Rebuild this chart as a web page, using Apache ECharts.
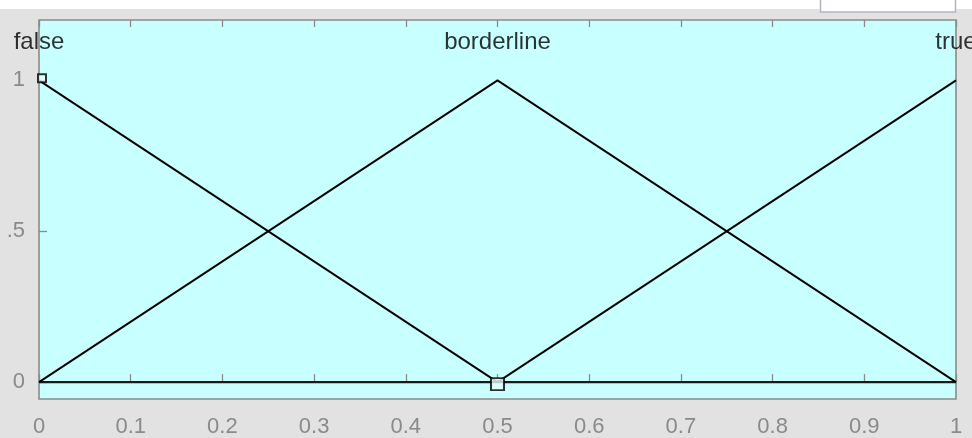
<!DOCTYPE html>
<html><head><meta charset="utf-8">
<script src="https://cdn.jsdelivr.net/npm/echarts@6/dist/echarts.min.js"></script>
<style>html,body{margin:0;padding:0;background:#fff}#c{width:972px;height:438px}</style>
</head><body><div id="c"></div>
<script>
// Membership functions
const xTicks = [0,0.1,0.2,0.3,0.4,0.5,0.6,0.7,0.8,0.9,1];
const yTicks = [0,0.5,1];
const falseMF = [[0,1],[0.5,0]];
const borderlineMF = [[0,0],[0.5,1],[1,0]];
const trueMF = [[0.5,0],[1,1]];
const zeroLine = [[0,0],[1,0]];
const termNames = ['false','borderline','true'];
const termCenters = [0,0.5,1];
const termLabelY = 1.126;
const selectedPoints = [[0,1],[0.5,0]];

const chart = echarts.init(document.getElementById('c'));
const lineStyle = {color:'#000', width:1.9};
const tickStyle = {color:'#8a8a8a', width:1.3};
const labelFont = {color:'#8a8a8a', fontSize:22, fontFamily:'Liberation Sans'};
chart.setOption({
  animation:false,
  backgroundColor:'transparent',
  graphic:[
    {type:'rect', z:-10, shape:{x:0,y:9,width:972,height:429}, style:{fill:'#e2e2e2'}},
    {type:'rect', z:-9, shape:{x:820.5,y:-2,width:135,height:14}, style:{fill:'#fff', stroke:'#b4b4c4', lineWidth:1.5}}
  ],
  grid:{left:39, top:20, width:917, height:379, show:true, backgroundColor:'#c8ffff', borderColor:'#8a8a8a', borderWidth:1.6},
  xAxis:[{
    type:'value', min:0, max:1, interval:0.1,
    axisLine:{show:false},
    axisTick:{show:true, inside:true, length:8, lineStyle:tickStyle},
    splitLine:{show:false},
    axisLabel:Object.assign({margin:17, formatter:v=>String(Math.round(v*10)/10)}, labelFont)
  },{
    type:'value', position:'top', min:0, max:1, interval:0.1,
    axisLine:{show:false},
    axisTick:{show:true, inside:true, length:7, lineStyle:tickStyle},
    splitLine:{show:false}, axisLabel:{show:false}
  }],
  yAxis:{
    type:'value', min:-0.056, max:1.2,
    axisLine:{show:false}, splitLine:{show:false},
    axisTick:{show:true, inside:true, length:8, customValues:yTicks, lineStyle:tickStyle},
    axisLabel:Object.assign({margin:14, customValues:yTicks, formatter:v=> v===0.5 ? '.5' : String(v)}, labelFont)
  },
  series:[
    {type:'line', data:zeroLine, symbol:'none', lineStyle:{color:'#1a1a1a', width:2.4}, z:2},
    {type:'line', data:falseMF, symbol:'none', lineStyle, z:3},
    {type:'line', data:borderlineMF, symbol:'none', lineStyle, z:3},
    {type:'line', data:trueMF, symbol:'none', lineStyle, z:3},
    {type:'scatter', data:[selectedPoints[0]], symbol:'rect', symbolSize:[8,8], symbolOffset:[3,-2],
      itemStyle:{color:'#e4ffff', borderColor:'#000', borderWidth:2}, z:5},
    {type:'scatter', data:[selectedPoints[1]], symbol:'rect', symbolSize:[13,12], symbolOffset:[0,2],
      itemStyle:{color:'#e4ffff', borderColor:'#000', borderWidth:2}, z:5},
    {type:'scatter', data:termCenters.map((x,i)=>[x,termLabelY,termNames[i]]), symbolSize:0,
      label:{show:true, position:'inside', formatter:p=>p.data[2], color:'#000', textBorderWidth:0, fontSize:24, fontFamily:'Liberation Sans'}, z:6}
  ]
});
</script></body></html>
